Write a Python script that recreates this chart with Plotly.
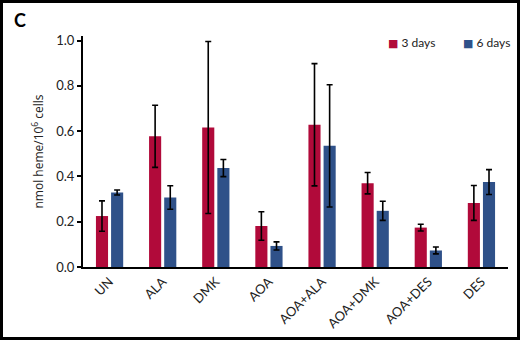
import plotly.graph_objects as go

categories = ["UN", "ALA", "DMK", "AOA", "AOA+ALA", "AOA+DMK", "AOA+DES", "DES"]
days3 = [0.225, 0.577, 0.616, 0.181, 0.628, 0.370, 0.174, 0.283]
days3_err = [0.067, 0.137, 0.38, 0.063, 0.27, 0.047, 0.015, 0.077]
days6 = [0.329, 0.307, 0.437, 0.093, 0.535, 0.248, 0.073, 0.375]
days6_err = [0.011, 0.052, 0.038, 0.018, 0.27, 0.042, 0.015, 0.055]
series_names = ["3 days", "6 days"]
yticks = [0.0, 0.2, 0.4, 0.6, 0.8, 1.0]

RED = "#B10A3A"
BLUE = "#2F5189"
FONT = "Lato, Open Sans, sans-serif"

fig = go.Figure()
fig.add_trace(go.Bar(
    x=categories, y=days3, name=series_names[0], marker_color=RED, marker_line_width=0,
    error_y=dict(type="data", array=days3_err, color="black", thickness=1.6, width=3),
))
fig.add_trace(go.Bar(
    x=categories, y=days6, name=series_names[1], marker_color=BLUE, marker_line_width=0,
    error_y=dict(type="data", array=days6_err, color="black", thickness=1.6, width=3),
))

L, R, T, B = 83, 12, 36, 73
W, H = 520, 340
pw, ph = W - L - R, H - T - B


def px(xp):
    return (xp - L) / pw


def py(yp):
    return (ph - (yp - T)) / ph


legend_ann = []
for name, col, xleft in [(series_names[0], RED, 386), (series_names[1], BLUE, 461)]:
    legend_ann.append(dict(
        text=f'<span style="color:{col};font-size:11px;font-family:DejaVu Sans">■</span> {name}',
        xref="paper", yref="paper", x=px(xleft), y=py(43), xanchor="left", yanchor="middle",
        showarrow=False, font=dict(size=12, family=FONT, color="#222")))

fig.update_layout(
    template="none",
    width=W, height=H,
    margin=dict(l=L, r=R, t=T, b=B, pad=0, autoexpand=False),
    paper_bgcolor="white", plot_bgcolor="white",
    barmode="group", bargap=0.43, bargroupgap=0.2,
    font=dict(family=FONT, size=12, color="#222"),
    showlegend=False,
    xaxis=dict(type="category", range=[-0.5, 7.5], showline=True, linecolor="black",
               linewidth=2, ticks="", tickangle=-45, tickfont=dict(size=13, family=FONT),
               showgrid=False, zeroline=False, automargin=False),
    yaxis=dict(range=[0, 1.02], tickvals=yticks, ticktext=[f"{v:.1f}" for v in yticks],
               showline=True, linecolor="black", linewidth=2, ticks="outside",
               ticklen=4, tickwidth=1.5, tickcolor="black", showgrid=False, zeroline=False,
               tickfont=dict(size=13, family=FONT), automargin=False,
               title=dict(text="nmol heme/10<sup>6</sup> cells",
                          font=dict(size=12, family="Open Sans, sans-serif"), standoff=10)),
    shapes=[dict(type="rect", xref="paper", yref="paper",
                 x0=px(1.5), x1=px(W - 1.5), y0=py(H - 1.5), y1=py(1.5),
                 line=dict(color="black", width=3))],
    annotations=[dict(text="<b>C</b>", xref="paper", yref="paper",
                      x=px(12), y=py(20), xanchor="left", yanchor="middle",
                      showarrow=False, font=dict(size=18, family=FONT, color="black"))]
    + legend_ann,
)

fig.write_html("out.html", config={"displayModeBar": False},
               post_script="document.body.style.margin='0';document.body.style.overflow='hidden';")
